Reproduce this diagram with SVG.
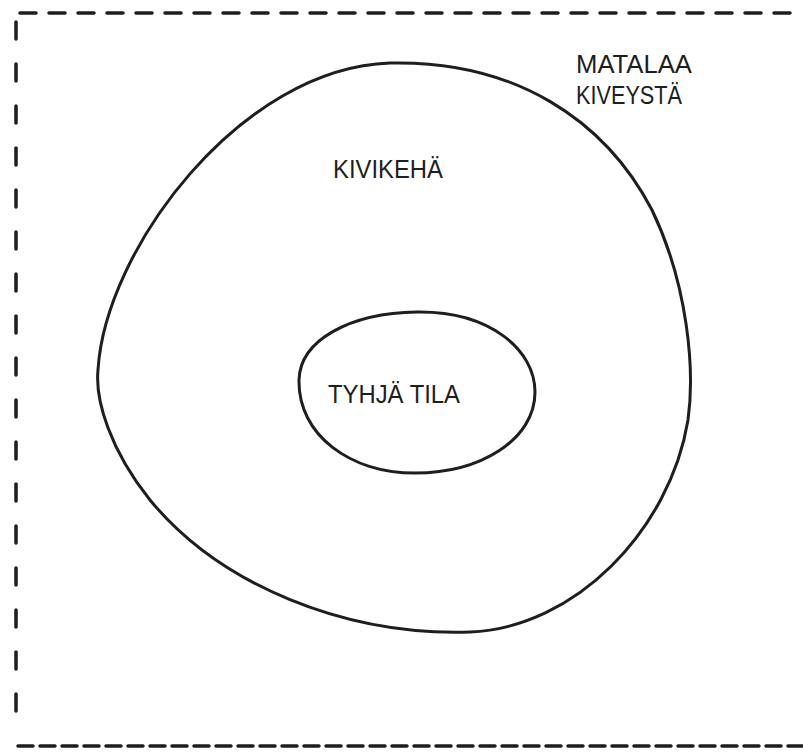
<svg xmlns="http://www.w3.org/2000/svg" width="803" height="753" viewBox="0 0 803 753">
<style>
.b{fill:none;stroke:#1e1e1e;stroke-width:3;stroke-linecap:round}
.d{fill:none;stroke:#1e1e1e;stroke-width:3.5;stroke-linecap:round}
.t{font-family:"Liberation Sans",Arial,sans-serif;fill:#1e1e1e;font-size:26px}
</style>
<rect width="803" height="753" fill="#fff"/>
<g id="border">
<path class="d" d="M20 13H800" stroke-dasharray="16 13"/>
<path class="d" d="M16 22V735" stroke-dasharray="17 25"/>
<path class="d" d="M18 746H803" stroke-dasharray="15 7"/>
</g>
<g id="kivikeha">
<path class="b" d="M390 63 C515 60 605 120 652 210 C688 285 695 370 688 420 C670 530 575 628 470 632 C345 636 220 585 150 500 C110 450 95 400 98 370 C105 250 240 68 390 63 Z"/>
<text class="t" x="333" y="178" textLength="110" lengthAdjust="spacingAndGlyphs">KIVIKEHÄ</text>
</g>
<g id="tyhja-tila">
<path class="b" d="M417 312 C490 311 535 350 535 392 C535 440 480 473 415 473 C350 473 298 435 299 380 C300 340 350 313 417 312 Z"/>
<text class="t" x="328" y="403" textLength="132" lengthAdjust="spacingAndGlyphs">TYHJÄ TILA</text>
</g>
<g id="matalaa">
<text class="t" x="576" y="73" textLength="116" lengthAdjust="spacingAndGlyphs">MATALAA</text>
<text class="t" x="576" y="104" textLength="106" lengthAdjust="spacingAndGlyphs">KIVEYSTÄ</text>
</g>
<g id="connectors"/>
</svg>
